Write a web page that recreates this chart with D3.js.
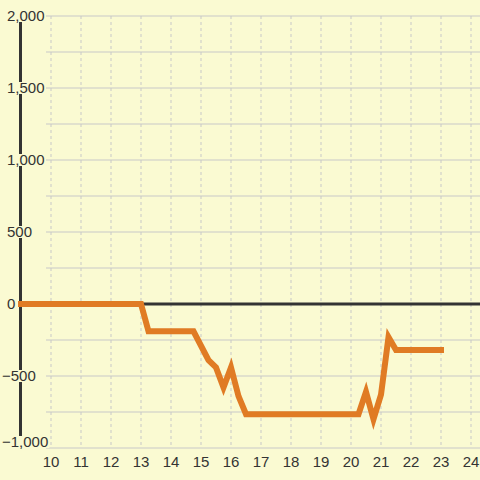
<!DOCTYPE html>
<html lang="en">
<head>
  <meta charset="utf-8">
  <title>Line chart</title>
  <script src="https://cdn.jsdelivr.net/npm/d3@7"></script>
  <style>
    body { margin: 0; background: #fafad2; overflow: hidden; }
    .grid-h { stroke: #c8c8c8; stroke-width: 1.2; }
    .grid-v { stroke: #c8c8c8; stroke-width: 1; stroke-dasharray: 3,3; }
    .tick-label { font: 15px 'Liberation Sans', Arial, sans-serif; fill: #333; }
  </style>
</head>
<body>
  <svg id="chart" width="480" height="480"></svg>
  <script>
    // x values (hours) and series values
    const xs = [9, 13, 13.25, 14.75, 15.25, 15.5, 15.75, 16, 16.25, 16.5,
                20.25, 20.5, 20.75, 21, 21.25, 21.5, 23];
    const ys = [0, 0, -190, -190, -390, -440, -580, -440, -640, -765,
                -765, -610, -800, -630, -230, -320, -320];
    const xTicks = [10, 11, 12, 13, 14, 15, 16, 17, 18, 19, 20, 21, 22, 23, 24];
    const yLabels = [2000, 1500, 1000, 500, 0, -500, -1000];
    const yGrid = d3.range(-1000, 2001, 250);

    const svg = d3.select("#chart");
    const x = d3.scaleLinear().domain([9, 24]).range([21, 471]);
    const y = d3.scaleLinear().domain([-1000, 2000]).range([448, 16]);
    const fmt = d3.format(",");

    // 网格
    svg.append("g").selectAll("line")
      .data(yGrid).enter().append("line")
      .attr("class", "grid-h")
      .attr("x1", 46).attr("x2", 480)
      .attr("y1", d => y(d)).attr("y2", d => y(d));

    svg.append("g").selectAll("line")
      .data(xTicks).enter().append("line")
      .attr("class", "grid-v")
      .attr("x1", d => x(d)).attr("x2", d => x(d))
      .attr("y1", y(2000)).attr("y2", y(-1000));

    // 坐标轴
    svg.append("line")
      .attr("x1", x(9) - 0.5).attr("x2", x(9) - 0.5)
      .attr("y1", y(2000)).attr("y2", y(-1000))
      .attr("stroke", "#333").attr("stroke-width", 3);
    svg.append("line")
      .attr("x1", x(9) - 2).attr("x2", 480)
      .attr("y1", y(0)).attr("y2", y(0))
      .attr("stroke", "#333").attr("stroke-width", 3);

    // y labels with background (bottom one pushed up to stay inside)
    const yl = svg.append("g").selectAll("g")
      .data(yLabels).enter().append("g")
      .attr("transform", d => `translate(${d < 0 ? 2 : 7},${Math.min(y(d), 442)})`);
    yl.append("text")
      .attr("class", "tick-label")
      .attr("dy", "0.35em")
      .text(d => fmt(d));
    yl.each(function() {
      const g = d3.select(this);
      const w = g.select("text").node().getComputedTextLength();
      g.insert("rect", "text")
        .attr("x", -1).attr("y", -6).attr("width", w + 2).attr("height", 12)
        .attr("fill", "#fafad2");
    });

    // x labels
    svg.append("g").selectAll("text")
      .data(xTicks).enter().append("text")
      .attr("class", "tick-label")
      .attr("text-anchor", "middle")
      .attr("x", d => x(d)).attr("y", 467)
      .text(d => d);

    // series line
    const line = d3.line().x((d, i) => x(xs[i])).y(d => y(d));
    svg.append("path")
      .datum(ys)
      .attr("d", line)
      .attr("fill", "none")
      .attr("stroke", "#e07b24")
      .attr("stroke-width", 6)
      .attr("stroke-linecap", "square")
      .attr("stroke-linejoin", "miter");
  </script>
</body>
</html>
